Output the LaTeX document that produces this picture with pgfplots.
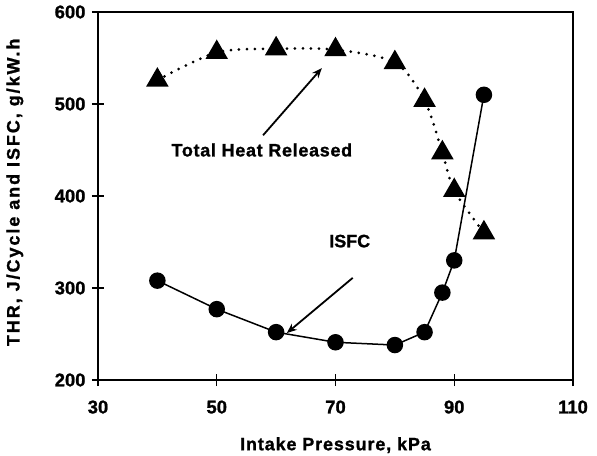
\documentclass[border=0pt]{standalone}
\usepackage{fontspec}
\setmainfont{Liberation Sans}[BoldFeatures={FakeBold=1.2}]
\usepackage{pgfplots}
\pgfplotsset{compat=1.18}
\usetikzlibrary{arrows.meta}
\begin{document}
\begin{tikzpicture}
\begin{axis}[
  scale only axis,
  width=475bp, height=368bp,
  xmin=30, xmax=110, ymin=200, ymax=600,
  xtick={30,50,70,90,110}, ytick={200,300,400,500,600},
  axis line style={line width=1.3bp, black},
  tick style={line width=1.3bp, black},
  tick align=center, major tick length=12bp,
  xtick pos=bottom, ytick pos=left,
  /pgf/number format/assume math mode=true,
  ticklabel style={font=\fontsize{18.5}{20}\selectfont\bfseries},
  xticklabel style={yshift=-11bp},
  yticklabel style={xshift=-3bp},
  xlabel={\addfontfeature{LetterSpace=5}Intake Pressure, kPa},
  ylabel={\addfontfeature{LetterSpace=11}THR, J/Cycle and ISFC, g/kW.h},
  label style={font=\fontsize{18}{20}\selectfont\bfseries},
  xlabel style={at={(axis description cs:0.5,-0.177)}, anchor=center},
  ylabel style={at={(axis description cs:-0.175,0.51)}, anchor=center},
  clip=false,
]
\coordinate (O) at (rel axis cs:0,0);
\addplot[black, line width=3bp, dash pattern=on 0bp off 8bp, line cap=round, smooth, tension=0.5,
  mark=triangle*, mark size=10bp, mark options={solid, fill=black}]
  coordinates {(40,526) (50,556) (60,560) (70,559) (80,545) (85,504) (88,447) (90,406) (95,360)};
\addplot[black, line width=1.5bp, mark=*, mark size=7.5bp, mark options={solid, fill=black}]
  coordinates {(40,308) (50,277) (60,252) (70,241) (80,238) (85,252) (88,295) (90,330) (95,510)};
\draw[line width=1.8bp, -{Stealth[length=10bp, width=8bp]}] (axis cs:57.8,466) -- (axis cs:67.7,539);
\draw[line width=1.8bp, -{Stealth[length=10bp, width=8bp]}] (axis cs:72.9,311) -- (axis cs:61.8,251);
\node[font=\fontsize{18}{20}\selectfont\bfseries] at (axis cs:57.6,450) {\addfontfeature{LetterSpace=4}Total Heat Released};
\node[font=\fontsize{18}{20}\selectfont\bfseries] at (axis cs:72.4,351) {ISFC};
\end{axis}
\pgfresetboundingbox
\path[use as bounding box] (O) ++(-98bp,-76bp) rectangle ++(597bp,456bp);
\end{tikzpicture}
\end{document}
